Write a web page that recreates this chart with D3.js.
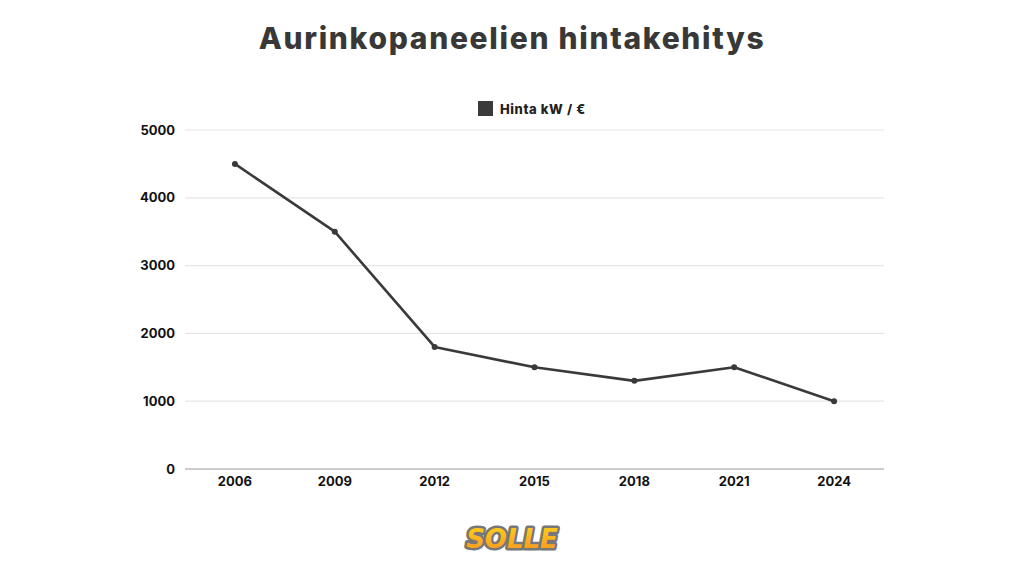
<!DOCTYPE html>
<html><head><meta charset="utf-8">
<script src="https://cdn.jsdelivr.net/npm/d3@7"></script>
<style>
body{margin:0;background:#fff;}
svg{display:block;}
</style></head>
<body><svg id="c" width="1024" height="576"></svg>
<script>
const years = ["2006","2009","2012","2015","2018","2021","2024"];
const prices = [4500,3500,1800,1500,1300,1500,1000];
const yTicks = [0,1000,2000,3000,4000,5000];
const titleText = "Aurinkopaneelien hintakehitys";
const legendText = "Hinta kW / €";

const svg = d3.select("#c");
const margin = {left:185, right:140, top:130, bottom:107};
const W = 1024, H = 576;
const x = d3.scaleBand().domain(years).range([margin.left, W - margin.right]);
const y = d3.scaleLinear().domain([0,5000]).range([H - margin.bottom, margin.top]);
const font = "Inter, 'Open Sans', sans-serif";

svg.append("text").attr("x",512).attr("y",49).attr("text-anchor","middle")
  .attr("font-family",font).attr("font-weight",800).attr("font-size",30)
  .attr("fill","#383838").attr("letter-spacing","1.7").text(titleText);

// legend
svg.append("rect").attr("x",478).attr("y",101).attr("width",15).attr("height",15).attr("fill","#3a3a3a");
svg.append("text").attr("x",500).attr("y",114).attr("font-family",font).attr("font-weight",800)
  .attr("font-size",13).attr("letter-spacing","0.6").attr("fill","#222").text(legendText);

// grid
const yAxis = d3.axisLeft(y).tickValues(yTicks).tickSize(0).tickPadding(10).tickFormat(d3.format("d"));
const gy = svg.append("g").attr("transform",`translate(${margin.left},0)`).call(yAxis);
gy.select(".domain").remove();
gy.selectAll("text").attr("font-family",font).attr("font-weight",700).attr("font-size",13).attr("fill","#111");

svg.append("g").selectAll("line").data(yTicks).join("line")
  .attr("x1",margin.left).attr("x2",W - margin.right)
  .attr("y1",d=>y(d)).attr("y2",d=>y(d))
  .attr("stroke",d=>d===0?"#bdbdbd":"#e6e6e6").attr("stroke-width",d=>d===0?1.5:1.2);

const xAxis = d3.axisBottom(x).tickSize(0).tickPadding(8);
const gx = svg.append("g").attr("transform",`translate(0,${y(0)})`).call(xAxis);
gx.select(".domain").remove();
gx.selectAll("text").attr("font-family",font).attr("font-weight",700).attr("font-size",13).attr("fill","#111");

const cx = d => x(d) + x.bandwidth()/2;
const line = d3.line().x((d,i)=>cx(years[i])).y(d=>y(d));
svg.append("path").datum(prices).attr("d",line).attr("fill","none")
  .attr("stroke","#3a3a3a").attr("stroke-width",2.6).attr("stroke-linejoin","round");
svg.append("g").selectAll("circle").data(prices).join("circle")
  .attr("cx",(d,i)=>cx(years[i])).attr("cy",d=>y(d)).attr("r",3).attr("fill","#3a3a3a");

// logo
const defs = svg.append("defs");
const grad = defs.append("linearGradient").attr("id","lg").attr("x1",0).attr("y1",0).attr("x2",0).attr("y2",1);
grad.append("stop").attr("offset","0").attr("stop-color","#ffd21f");
grad.append("stop").attr("offset","1").attr("stop-color","#f7941d");
const logo = svg.append("text").attr("x",512).attr("y",548).attr("text-anchor","middle")
  .attr("font-family","'DejaVu Sans', sans-serif").attr("font-weight",700).attr("font-size",26)
  .attr("font-style","italic").attr("letter-spacing","0");
logo.clone(true).attr("fill","none").attr("stroke","#777").attr("stroke-width",5).attr("stroke-linejoin","round").text("SOLLE");
logo.attr("fill","url(#lg)").text("SOLLE").raise();
</script></body></html>
